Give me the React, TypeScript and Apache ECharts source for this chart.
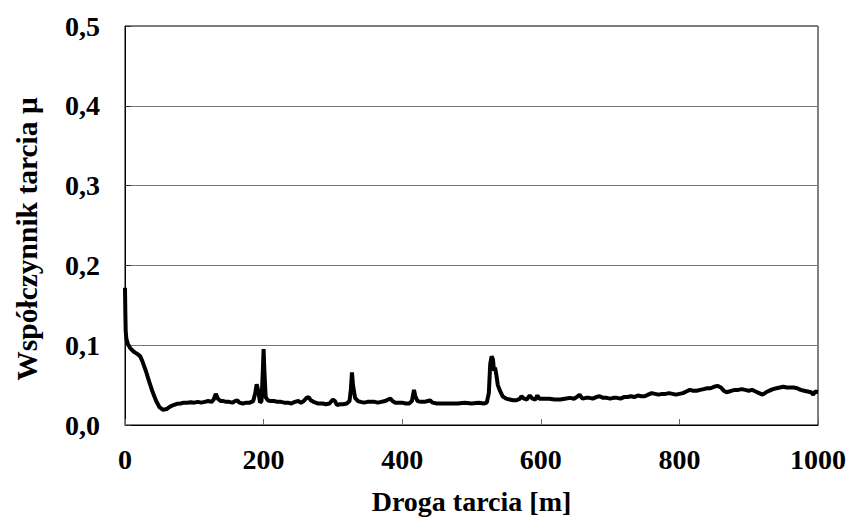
import React, { useEffect, useRef } from "react";
import * as echarts from "echarts";

const distance: number[] = [
  0, 0.5, 1, 2, 4, 7, 10, 14, 18, 22, 25, 30, 35, 40, 45, 50, 55, 60, 65, 70, 75, 80, 85, 90, 95, 100,
  105, 110, 115, 120, 125, 128, 131, 134, 138, 142, 146, 150, 155, 159, 162, 165, 170, 175, 180, 185,
  188, 190, 192, 195, 197, 199, 200, 201, 203, 206, 210, 215, 220, 225, 230, 235, 240, 245, 250, 254,
  258, 262, 265, 268, 272, 278, 285, 290, 295, 300, 303, 306, 310, 315, 320, 324, 326, 327.5, 329, 332,
  336, 340, 345, 350, 355, 360, 365, 370, 375, 380, 383, 386, 390, 395, 400, 405, 410, 414, 417, 419,
  422, 427, 432, 437, 440, 444, 450, 460, 470, 480, 490, 500, 510, 518, 522, 525, 527, 529, 531, 532.5,
  534, 536, 538, 541, 545, 550, 555, 560, 565, 570, 572, 576, 580, 584, 588, 592, 595, 598, 605, 612,
  620, 628, 635, 642, 648, 652, 656, 660, 665, 670, 675, 680, 685, 690, 695, 700, 705, 710, 715, 720,
  725, 730, 735, 740, 745, 750, 755, 760, 765, 770, 775, 780, 785, 790, 795, 800, 805, 810, 815, 820,
  825, 830, 835, 840, 845, 850, 855, 860, 864, 868, 872, 876, 880, 885, 890, 895, 900, 905, 910, 915,
  920, 925, 930, 935, 940, 945, 950, 955, 960, 965, 970, 975, 980, 985, 990, 993, 996, 1000,
];

const mu: number[] = [
  0.172, 0.14, 0.118, 0.108, 0.102, 0.097, 0.094, 0.091, 0.089, 0.086, 0.08, 0.068, 0.054, 0.041, 0.03,
  0.022, 0.019, 0.02, 0.023, 0.025, 0.0265, 0.027, 0.028, 0.028, 0.0285, 0.028,
  0.029, 0.028, 0.029, 0.03, 0.029, 0.032, 0.039, 0.033, 0.03, 0.03, 0.029, 0.029, 0.028, 0.03, 0.031,
  0.028, 0.027, 0.028, 0.028, 0.03,
  0.04, 0.051, 0.044, 0.028, 0.03, 0.07, 0.095, 0.07, 0.035, 0.031, 0.03, 0.03, 0.029, 0.029, 0.028,
  0.028, 0.027, 0.029, 0.03, 0.028,
  0.03, 0.034, 0.035, 0.031, 0.029, 0.027, 0.027, 0.026, 0.027, 0.032, 0.03, 0.025, 0.026, 0.026, 0.027,
  0.03, 0.045, 0.066, 0.05, 0.034,
  0.03, 0.029, 0.028, 0.029, 0.029, 0.029, 0.028, 0.029, 0.03, 0.032, 0.033, 0.03, 0.028, 0.028, 0.028,
  0.027, 0.027, 0.03, 0.044, 0.036,
  0.03, 0.029, 0.029, 0.03, 0.031, 0.028, 0.027, 0.027, 0.027, 0.027, 0.028, 0.027, 0.028, 0.027, 0.028,
  0.04, 0.076, 0.086, 0.082, 0.068,
  0.072, 0.062, 0.05, 0.043, 0.036, 0.033, 0.032, 0.031, 0.031, 0.033, 0.036, 0.033, 0.032, 0.037, 0.033,
  0.032, 0.037, 0.033, 0.033, 0.033,
  0.032, 0.032, 0.033, 0.034, 0.033, 0.035, 0.038, 0.033, 0.034, 0.034, 0.033, 0.035, 0.036, 0.034, 0.034,
  0.033, 0.034, 0.034, 0.033, 0.035,
  0.035, 0.036, 0.035, 0.037, 0.036, 0.036, 0.038, 0.04, 0.039, 0.038, 0.039, 0.039, 0.04, 0.039, 0.038,
  0.039, 0.04, 0.042, 0.044, 0.043,
  0.043, 0.044, 0.045, 0.046, 0.046, 0.048, 0.049, 0.047, 0.043, 0.041, 0.042, 0.043, 0.044, 0.044, 0.045,
  0.044, 0.043, 0.044, 0.042, 0.04,
  0.038, 0.041, 0.043, 0.045, 0.046, 0.047, 0.048, 0.047, 0.047, 0.047, 0.046, 0.044, 0.043, 0.042, 0.041,
  0.038, 0.042, 0.041,
];

const xTitle = "Droga tarcia [m]";
const yTitle = "Współczynnik tarcia μ";

const FONT = "Liberation Serif, Times New Roman, serif";

export default function App() {
  const ref = useRef<HTMLDivElement>(null);
  useEffect(() => {
    if (!ref.current) return;
    const chart = echarts.init(ref.current, undefined, { renderer: "svg" });
    const data = distance.map((d, i) => [d, mu[i]]);
    chart.setOption({
      animation: false,
      backgroundColor: "#fff",
      textStyle: { fontFamily: FONT },
      grid: {
        left: 125,
        right: 31,
        top: 26,
        bottom: 92,
        show: true,
        borderColor: "#000",
        borderWidth: 1,
      },
      graphic: [
        {
          type: "text",
          x: 27,
          y: 239,
          rotation: Math.PI / 2,
          style: {
            text: yTitle,
            fontFamily: FONT,
            fontWeight: "bold",
            fontSize: 29.5,
            fill: "#000",
            align: "center",
            verticalAlign: "middle",
          },
        },
      ],
      xAxis: {
        type: "value",
        min: 0,
        max: 1000,
        interval: 200,
        name: xTitle,
        nameLocation: "middle",
        nameGap: 62,
        nameTextStyle: { fontFamily: FONT, fontWeight: "bold", fontSize: 28, color: "#000" },
        axisLine: { show: true, onZero: false, lineStyle: { color: "#000", width: 1 } },
        axisTick: { show: true, inside: true, length: 6, lineStyle: { color: "#666" } },
        axisLabel: {
          margin: 20,
          fontFamily: FONT,
          fontWeight: "bold",
          fontSize: 28,
          color: "#000",
          formatter: (v: number) => String(v),
        },
        splitLine: { show: false },
      },
      yAxis: {
        type: "value",
        min: 0,
        max: 0.5,
        interval: 0.1,
        axisLine: { show: true, lineStyle: { color: "#000", width: 1 } },
        axisTick: { show: true, inside: true, length: 6, lineStyle: { color: "#333" } },
        axisLabel: {
          margin: 25,
          fontFamily: FONT,
          fontWeight: "bold",
          fontSize: 28,
          color: "#000",
          formatter: (v: number) => v.toFixed(1).replace(".", ","),
        },
        splitLine: { show: true, lineStyle: { color: "#777", width: 1 } },
      },
      series: [
        {
          type: "line",
          data,
          showSymbol: false,
          symbol: "none",
          lineStyle: { color: "#000", width: 4 },
          smooth: false,
        },
      ],
    });
    return () => chart.dispose();
  }, []);
  return (
    <div
      ref={ref}
      style={{ position: "absolute", left: 0, top: 0, width: 849, height: 520 }}
    />
  );
}
